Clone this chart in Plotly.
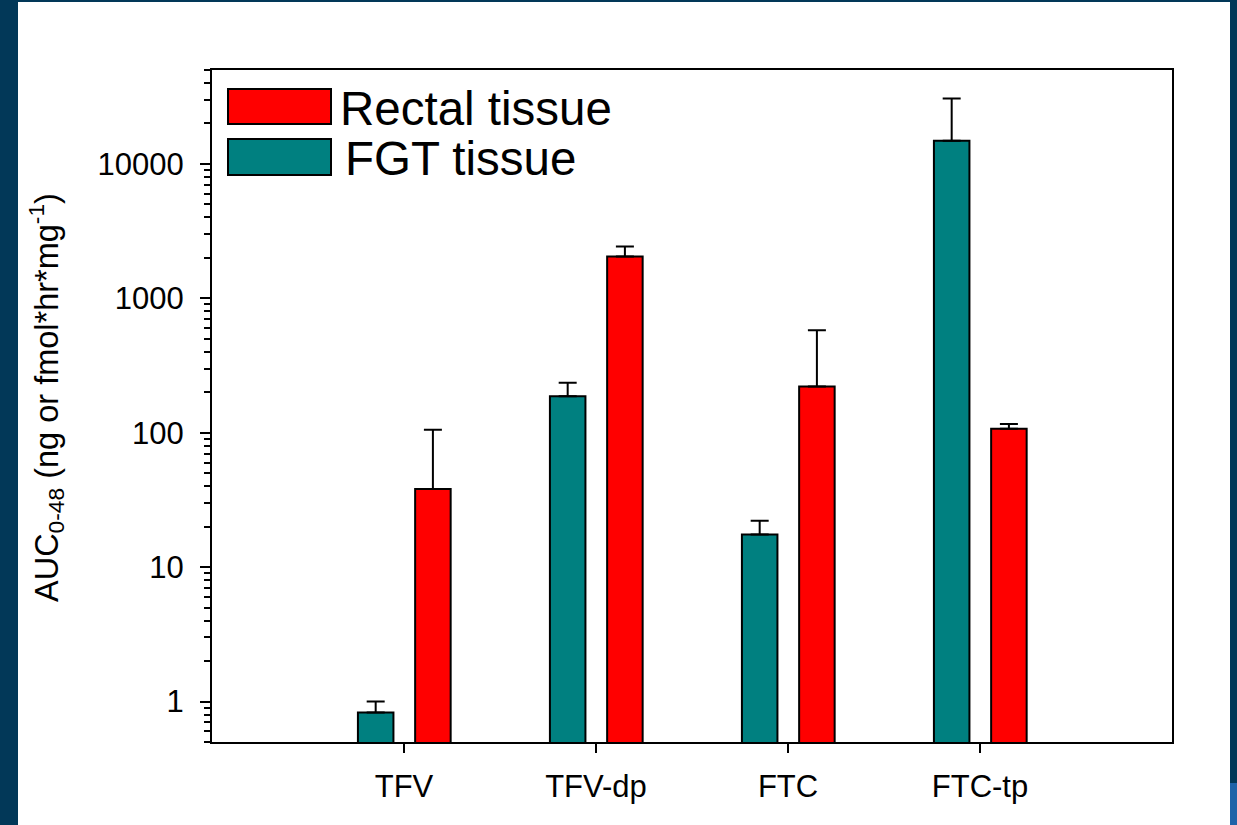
import plotly.graph_objects as go

# ---- data ----
categories = ["TFV", "TFV-dp", "FTC", "FTC-tp"]
fgt_values = [0.83, 187, 17.5, 14900]
fgt_err_plus = [0.17, 48, 4.6, 15800]
rectal_values = [38.2, 2047, 221, 107]
rectal_err_plus = [67, 380, 358, 9]
y_tickvals = [1, 10, 100, 1000, 10000]
y_ticktext = ["1", "10", "100", "1000", "10000"]
series_names = ["Rectal tissue", "FGT tissue"]

TEAL = "#008080"
RED = "#ff0000"
DARK_BG = "#023858"
LIGHT_BLUE = "#1f63a8"
FONT = "Arial, Liberation Sans, sans-serif"

W, H = 1237, 825
L, R, T, B = 212, 65, 70, 83
PW, PH = W - L - R, H - T - B


def px(x):
    return (x - L) / PW


def py(y):
    return (H - B - y) / PH


fig = go.Figure()

fig.add_trace(go.Bar(
    x=categories, y=fgt_values, name=series_names[1],
    width=0.185, offset=-0.24,
    marker=dict(color=TEAL, line=dict(color="black", width=2)),
    error_y=dict(type="data", symmetric=False, array=fgt_err_plus,
                 arrayminus=[0] * len(fgt_values), color="black",
                 thickness=2, width=9),
    showlegend=False,
))
fig.add_trace(go.Bar(
    x=categories, y=rectal_values, name=series_names[0],
    width=0.185, offset=0.058,
    marker=dict(color=RED, line=dict(color="black", width=2)),
    error_y=dict(type="data", symmetric=False, array=rectal_err_plus,
                 arrayminus=[0] * len(rectal_values), color="black",
                 thickness=2, width=9),
    showlegend=False,
))

shapes = [
    # white slide panel
    dict(type="rect", xref="paper", yref="paper", layer="below",
         x0=px(18), x1=px(1230), y0=py(830), y1=py(2),
         fillcolor="white", line=dict(width=0)),
    # light blue corner strip
    dict(type="rect", xref="paper", yref="paper", layer="below",
         x0=px(1230), x1=px(1240), y0=py(830), y1=py(783),
         fillcolor=LIGHT_BLUE, line=dict(width=0)),
    # legend swatches
    dict(type="rect", xref="paper", yref="paper",
         x0=px(228), x1=px(331), y0=py(124), y1=py(89),
         fillcolor=RED, line=dict(color="black", width=2)),
    dict(type="rect", xref="paper", yref="paper",
         x0=px(228), x1=px(331), y0=py(175), y1=py(139),
         fillcolor=TEAL, line=dict(color="black", width=2)),
]

annotations = [
    dict(xref="paper", yref="paper", x=px(338), y=py(108),
         xanchor="left", yanchor="middle", showarrow=False,
         text=series_names[0], font=dict(family=FONT, size=47.5, color="black")),
    dict(xref="paper", yref="paper", x=px(343), y=py(158),
         xanchor="left", yanchor="middle", showarrow=False,
         text=series_names[1], font=dict(family=FONT, size=47.5, color="black")),
    dict(xref="paper", yref="paper", x=px(46), y=py(398),
         xanchor="center", yanchor="middle", showarrow=False, textangle=-90,
         text="AUC<sub>0-48</sub> (ng or fmol*hr*mg<sup>-1</sup>)",
         font=dict(family=FONT, size=32.5, color="black")),
]

fig.update_layout(
    width=W, height=H,
    margin=dict(l=L, r=R, t=T, b=B, autoexpand=False),
    paper_bgcolor=DARK_BG,
    plot_bgcolor="white",
    barmode="overlay",
    shapes=shapes,
    annotations=annotations,
    font=dict(family=FONT, size=31, color="black"),
    xaxis=dict(
        range=[-1, 4], showgrid=False, zeroline=False,
        showline=True, linecolor="black", linewidth=2, mirror=True,
        ticks="outside", ticklen=9, tickwidth=2, tickcolor="black",
        tickfont=dict(family=FONT, size=31, color="black"),
        ticklabelstandoff=7,
    ),
    yaxis=dict(
        type="log", range=[0.69897 - 1, 4.69897],
        showgrid=False, zeroline=False,
        showline=True, linecolor="black", linewidth=2, mirror=True,
        tickmode="array", tickvals=y_tickvals, ticktext=y_ticktext,
        ticks="outside", ticklen=10, tickwidth=2, tickcolor="black",
        tickfont=dict(family=FONT, size=31, color="black"),
        ticklabelstandoff=10,
        minor=dict(ticks="outside", ticklen=6, tickwidth=1.5,
                   tickcolor="black", dtick="D1", showgrid=False),
    ),
)

fig.write_html(
    "out.html",
    config={"displayModeBar": False},
    post_script="document.body.style.margin='0';"
                "document.body.style.background='" + DARK_BG + "';",
)
